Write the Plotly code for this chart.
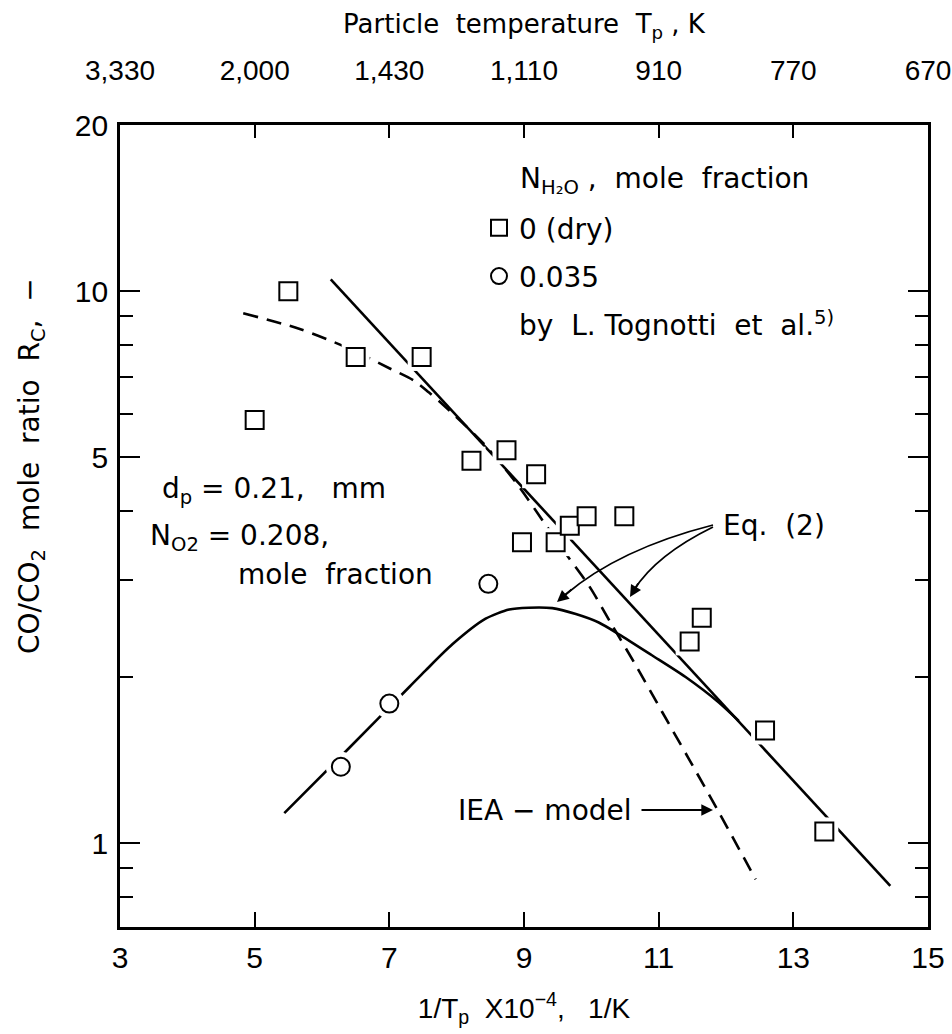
import math
import plotly.graph_objects as go

# ---------------- data ----------------
# measured CO/CO2 ratio, dry (N_H2O = 0)
dry_x = [5.0, 5.5, 6.5, 7.48, 8.22, 8.74, 9.18, 8.97, 9.47, 9.68, 9.93, 10.49, 11.46, 11.64, 12.58, 13.46]
dry_y = [5.84, 10.0, 7.6, 7.6, 4.93, 5.15, 4.66, 3.51, 3.51, 3.76, 3.91, 3.91, 2.32, 2.56, 1.60, 1.05]

# measured CO/CO2 ratio, N_H2O = 0.035
wet_x = [6.28, 7.0, 8.47]
wet_y = [1.375, 1.79, 2.95]

# Eq. (2), straight line (dry)
eq2_dry_x = [6.13, 14.44]
eq2_dry_y = [10.5, 0.837]

# Eq. (2), humped curve (wet)
eq2_wet_x = [5.44, 6.41, 7.30, 7.54, 7.94, 8.43, 8.78, 9.07, 9.42, 9.77, 10.11, 10.41, 10.90, 11.40, 11.89, 12.19]
eq2_wet_y = [1.133, 1.49, 1.92, 2.056, 2.294, 2.55, 2.65, 2.67, 2.665, 2.60, 2.51, 2.39, 2.19, 2.00, 1.80, 1.665]

# IEA model (dashed)
iea_x = [4.83, 5.67, 6.36, 7.0, 7.37, 7.59, 7.79, 8.41, 8.88, 9.33, 9.64, 9.97, 10.31, 10.66, 11.05, 11.45, 11.89, 12.44]
iea_y = [9.12, 8.54, 7.91, 7.25, 6.88, 6.55, 6.24, 5.28, 4.50, 3.76, 3.32, 2.92, 2.48, 2.10, 1.73, 1.42, 1.14, 0.86]

# axes
x_tick_vals = [3, 5, 7, 9, 11, 13, 15]
x_tick_text = ["3", "5", "7", "9", "11", "13", "15"]
top_tick_text = ["3,330", "2,000", "1,430", "1,110", "910", "770", "670"]
y_tick_vals = [1, 5, 10, 20]
y_tick_text = ["1", "5", "10", "20"]
y_minor_vals = [0.8, 0.9, 2, 3, 4, 6, 7, 8, 9]
x_range = [3, 15]
y_range = [0.7048, 20]

# ---------------- layout helpers ----------------
W, H = 952, 1034
ML, MR, MT, MB = 120, 24, 125, 107
PW, PH = W - ML - MR, H - MT - MB


def fx(px):
    return (px - ML) / PW


def fy(py):
    return (H - MB - py) / PH


TXT = "DejaVu Sans"
NUM = "Liberation Sans Narrow, Liberation Sans, Arial"
FS = 28

fig = go.Figure()

fig.add_trace(go.Scatter(x=iea_x, y=iea_y, mode="lines",
                         line=dict(color="black", width=2.6, dash="15px,9px", shape="spline", smoothing=0.8),
                         showlegend=False, hoverinfo="skip"))
fig.add_trace(go.Scatter(x=eq2_dry_x, y=eq2_dry_y, mode="lines", line=dict(color="black", width=2.6),
                         showlegend=False, hoverinfo="skip"))
fig.add_trace(go.Scatter(x=eq2_wet_x, y=eq2_wet_y, mode="lines",
                         line=dict(color="black", width=2.6, shape="spline", smoothing=0.7),
                         showlegend=False, hoverinfo="skip"))

# white halos to break the lines around the markers
fig.add_trace(go.Scatter(x=dry_x, y=dry_y, mode="markers",
                         marker=dict(symbol="square", size=28, color="white", line=dict(width=0)),
                         showlegend=False, hoverinfo="skip"))
fig.add_trace(go.Scatter(x=wet_x, y=wet_y, mode="markers",
                         marker=dict(symbol="circle", size=30, color="white", line=dict(width=0)),
                         showlegend=False, hoverinfo="skip"))

fig.add_trace(go.Scatter(x=dry_x, y=dry_y, mode="markers", name="0 (dry)", legendgroup="a",
                         marker=dict(symbol="square", size=18, color="white", line=dict(color="black", width=2))))
fig.add_trace(go.Scatter(x=wet_x, y=wet_y, mode="markers", name="0.035", legendgroup="b",
                         marker=dict(symbol="circle", size=18, color="white", line=dict(color="black", width=2))))
fig.add_trace(go.Scatter(x=[None], y=[None], mode="markers", name="by  L. Tognotti  et  al.<sup>5)</sup>",
                         legendgroup="c", marker=dict(size=1, color="rgba(0,0,0,0)")))
# helper trace for the top temperature axis
fig.add_trace(go.Scatter(x=x_tick_vals, y=[1] * len(x_tick_vals), xaxis="x2", mode="markers",
                         marker=dict(opacity=0), showlegend=False, hoverinfo="skip"))

axis_common = dict(showline=True, linecolor="black", linewidth=2.6, showgrid=False, zeroline=False,
                   ticks="inside", tickcolor="black", tickwidth=2.4, automargin=False,
                   ticklabeloverflow="allow")

fig.update_layout(
    width=W, height=H, autosize=False,
    margin=dict(l=ML, r=MR, t=MT, b=MB, pad=0),
    paper_bgcolor="white", plot_bgcolor="white",
    font=dict(family=TXT, size=FS, color="black"),
    xaxis=dict(range=x_range, tickmode="array", tickvals=x_tick_vals, ticktext=x_tick_text, ticklen=15,
               mirror=True, ticklabelstandoff=2, tickfont=dict(family=NUM, size=30, color="black"),
               title=dict(text="1/T<sub>p</sub>  X10<sup>−4</sup>,   1/K", font=dict(family=NUM, size=28), standoff=26),
               **axis_common),
    xaxis2=dict(range=x_range, overlaying="x", side="top", anchor="y", tickmode="array",
                tickvals=x_tick_vals, ticktext=top_tick_text, ticklen=13, ticklabelstandoff=31,
                tickfont=dict(family=NUM, size=28, color="black"),
                title=dict(text="Particle  temperature  T<sub>p</sub> , K", font=dict(family=TXT, size=26), standoff=14),
                **axis_common),
    yaxis=dict(type="log", range=[math.log10(y_range[0]), math.log10(y_range[1])], tickmode="array",
               tickvals=y_tick_vals, ticktext=y_tick_text, ticklen=20, mirror="ticks", ticklabelstandoff=3,
               tickfont=dict(family=NUM, size=30, color="black"),
               minor=dict(tickmode="array", tickvals=y_minor_vals, ticks="inside", ticklen=13, tickwidth=2.4,
                          tickcolor="black", showgrid=False),
               **axis_common),
    showlegend=True,
    legend=dict(x=fx(479), y=fy(203), xanchor="left", yanchor="top", bgcolor="rgba(0,0,0,0)",
                font=dict(family=TXT, size=FS, color="black"), traceorder="grouped", tracegroupgap=9,
                itemsizing="trace"),
)

annotations = [
    dict(text="N<sub>H₂O</sub> ,  mole  fraction", x=fx(518), y=fy(180), xanchor="left"),
    dict(text="d<sub>p</sub> = 0.21,   mm", x=fx(160), y=fy(490), xanchor="left"),
    dict(text="N<sub>O2</sub> = 0.208,", x=fx(148), y=fy(537), xanchor="left"),
    dict(text="mole  fraction", x=fx(236), y=fy(574), xanchor="left"),
    dict(text="Eq.  (2)", x=fx(721), y=fy(525), xanchor="left"),
    dict(text="IEA − model", x=fx(634), y=fy(810), xanchor="right"),
]
for a in annotations:
    fig.add_annotation(xref="paper", yref="paper", yanchor="middle", showarrow=False,
                       font=dict(family=TXT, size=FS, color="black"), **a)

# y-axis title (placed as rotated text to match the reference position)
fig.add_annotation(xref="paper", yref="paper", x=fx(31), y=fy(466), xanchor="center", yanchor="middle",
                   textangle=-90, showarrow=False, text="CO/CO<sub>2</sub>  mole  ratio  R<sub>C</sub>,  −",
                   font=dict(family=TXT, size=28, color="black"))

# arrows
arrow_heads = [
    (713, 810, -73, 0),     # IEA model arrow
    (557, 602, 16, -14),    # Eq.(2) -> wet curve
    (630, 597, 9, -15),     # Eq.(2) -> dry line
]
for hx, hy, ax, ay in arrow_heads:
    fig.add_annotation(xref="paper", yref="paper", x=fx(hx), y=fy(hy), ax=ax, ay=ay, text="",
                       showarrow=True, arrowhead=2, arrowsize=1.3, arrowwidth=1.8, arrowcolor="black")


def qpath(p0, c, p1):
    return "M {} {} Q {} {} {} {}".format(fx(p0[0]), fy(p0[1]), fx(c[0]), fy(c[1]), fx(p1[0]), fy(p1[1]))


fig.add_shape(type="path", xref="paper", yref="paper", path=qpath((713, 525), (619, 549), (565, 595)),
              line=dict(color="black", width=1.8))
fig.add_shape(type="path", xref="paper", yref="paper", path=qpath((713, 527), (656, 555), (634, 590)),
              line=dict(color="black", width=1.8))

fig.write_html("out.html")
